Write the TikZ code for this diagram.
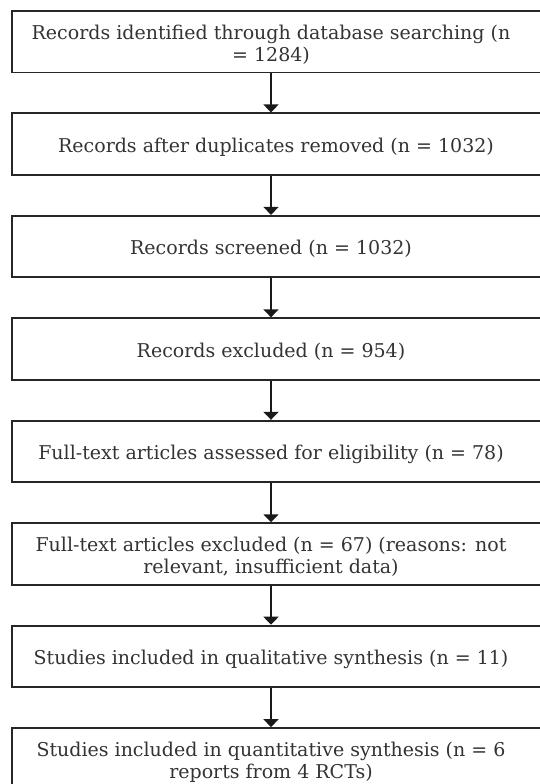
\documentclass[tikz,border=0pt]{standalone}
\usepackage{fontspec}
\setmainfont{DejaVu Serif}
\usetikzlibrary{arrows.meta}
\begin{document}
\begin{tikzpicture}[x=1pt,y=-1pt,
  box/.style={draw=black!85, line width=1.9pt, minimum width=533pt, minimum height=61.5pt, inner sep=0pt},
  txt/.style={text=black!80, font=\fontsize{19}{22}\selectfont, anchor=base, inner sep=0pt},
  arr/.style={draw=black!90, line width=1.8pt, -{Triangle[width=15pt,length=8pt]}}]
\useasboundingbox (0,0) rectangle (539,784);
\coordinate (ax) at (271,0);
\foreach \i in {1,...,8}{
  \node[box] (b\i) at (278.5,{41.7+(\i-1)*102.45}) {};
}
% single-line texts: baseline = box centre + 8
\node[txt] (t1a) at ([yshift=2pt]b1.center -| ax) {Records identified through database searching (n};
\node[txt] (t1b) at ([yshift=-20pt]b1.center -| ax) {= 1284)};
\node[txt] (t2) at ([xshift=5pt,yshift=-8pt]b2.center -| ax) {Records after duplicates removed (n = 1032)};
\node[txt] (t3) at ([yshift=-8pt]b3.center -| ax) {Records screened (n = 1032)};
\node[txt] (t4) at ([yshift=-8pt]b4.center -| ax) {Records excluded (n = 954)};
\node[txt] (t5) at ([yshift=-8pt]b5.center -| ax) {Full-text articles assessed for eligibility (n = 78)};
\node[txt] (t6a) at ([yshift=2pt]b6.center -| ax) {Full-text articles excluded (n = 67) (reasons: not};
\node[txt] (t6b) at ([yshift=-20pt]b6.center -| ax) {relevant, insufficient data)};
\node[txt] (t7) at ([yshift=-8pt]b7.center -| ax) {Studies included in qualitative synthesis (n = 11)};
\node[txt] (t8a) at ([yshift=2pt]b8.center -| ax) {Studies included in quantitative synthesis (n = 6};
\node[txt] (t8b) at ([yshift=-20pt]b8.center -| ax) {reports from 4 RCTs)};
\foreach \i [evaluate=\i as \j using int(\i+1)] in {1,...,7}{
  \draw[arr] (b\i.south -| ax) -- (b\j.north -| ax);
}
\end{tikzpicture}
\end{document}
